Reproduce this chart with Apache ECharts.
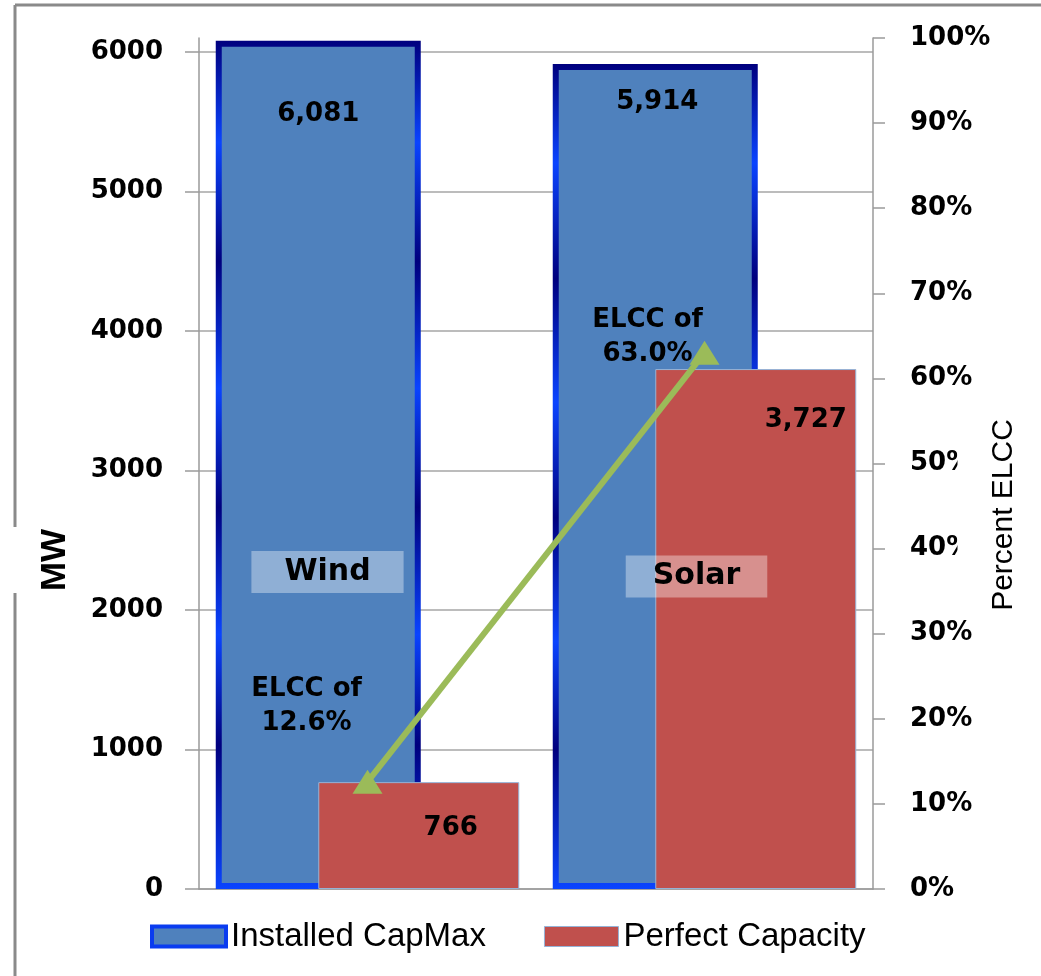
<!DOCTYPE html>
<html>
<head>
<meta charset="utf-8">
<script src="https://cdn.jsdelivr.net/npm/echarts@6/dist/echarts.min.js"></script>
<style>
  html, body { margin: 0; padding: 0; background: #fff; }
  #chart { width: 1041px; height: 976px; }
</style>
</head>
<body>
<div id="chart"></div>
<script>
// Resource categories and their capacity figures (MW)
const categories = ['Wind', 'Solar'];
const installedCapMax = [6081, 5914];
const perfectCapacity = [766, 3727];
// Effective load carrying capability, percent of installed capacity
const elccPercent = [12.6, 63.0];
// Axis tick values
const mwTicks = [0, 1000, 2000, 3000, 4000, 5000, 6000];
const percentTicks = [0, 10, 20, 30, 40, 50, 60, 70, 80, 90, 100];

// Label placement (pixels) for each category's value labels
const installedLabelPlace = [{ dy: 74, dx: 0 }, { dy: 38, dx: 2 }];
const perfectLabelPlace = [{ dy: 46, dx: 32 }, { dy: 51, dx: 50 }];
const elccLabelOffset = [[-61, -76], [-57, -16]];
const tagLevel = 2272;
const tagStyle = [
  { offset: [-40, 0], padding: [6, 33, 6, 33] },
  { offset: [-8, 4.5], padding: [6, 27, 6, 27] }
];

const BLUE = '#4F81BD';
const RED = '#C0504D';
const GREEN = '#9BBB59';
const AXIS_GRAY = '#9a9a9a';
const TICK_FONT = { fontFamily: 'DejaVu Sans', fontWeight: 'bold', fontSize: 26, color: '#000' };

const fmtThousands = v => v.toLocaleString('en-US');

// Bevelled navy/blue border on the installed-capacity bars
const borderGradient = new echarts.graphic.LinearGradient(0, 0, 0, 1, [
  { offset: 0.00, color: '#00007e' },
  { offset: 0.12, color: '#0a44ff' },
  { offset: 0.26, color: '#00007e' },
  { offset: 0.41, color: '#0a44ff' },
  { offset: 0.55, color: '#00007e' },
  { offset: 0.70, color: '#0a44ff' },
  { offset: 0.83, color: '#00007e' },
  { offset: 1.00, color: '#0a44ff' }
]);

// Right-hand axis title: opaque box that sits over the neighbouring tick labels
const rightTitlePad = [55, 6, 8, 6];
const rightTitleCenter = { x: 1004, y: 515 };

const chart = echarts.init(document.getElementById('chart'), null, { renderer: 'canvas' });

const option = {
  animation: false,
  backgroundColor: '#fff',
  grid: { left: 199, right: 168, top: 38, bottom: 87, containLabel: false, outerBoundsMode: 'none' },
  legend: {
    left: 150,
    top: 920,
    icon: 'rect',
    itemWidth: 74,
    itemHeight: 20,
    itemGap: 58,
    padding: 0,
    textStyle: { fontFamily: 'Liberation Sans', fontSize: 33, color: '#000' },
    data: [
      { name: 'Installed CapMax', itemStyle: { color: BLUE, borderColor: '#0a3cf0', borderWidth: 4 } },
      { name: 'Perfect Capacity', itemStyle: { color: RED, borderColor: '#95B3D7', borderWidth: 1 } }
    ]
  },
  xAxis: {
    type: 'category',
    data: categories,
    axisLine: { show: true, lineStyle: { color: AXIS_GRAY, width: 1.5 } },
    axisTick: { show: false },
    axisLabel: { show: false },
    splitLine: { show: false }
  },
  yAxis: [
    {
      type: 'value',
      min: 0,
      max: 6100,
      interval: 1000,
      name: 'MW',
      nameLocation: 'middle',
      nameRotate: 90,
      nameGap: 126,
      nameMoveOverlap: false,
      nameTextStyle: {
        fontFamily: 'Liberation Sans', fontWeight: 'bold', fontSize: 35, color: '#000',
        padding: [0, 193, 0, 0]
      },
      axisLine: { show: true, lineStyle: { color: AXIS_GRAY, width: 1.5 } },
      axisTick: { show: true, length: 14, customValues: mwTicks, lineStyle: { color: AXIS_GRAY, width: 1.5 } },
      axisLabel: Object.assign({ margin: 36, customValues: mwTicks, formatter: v => String(v) }, TICK_FONT),
      splitLine: {
        show: true,
        lineStyle: {
          color: ['#a6a6a6', '#a6a6a6', '#a6a6a6', '#a6a6a6', '#a6a6a6', '#a6a6a6', '#a6a6a6', 'rgba(0,0,0,0)'],
          width: 1.5
        }
      }
    },
    {
      type: 'value',
      position: 'right',
      min: 0,
      max: 100,
      interval: 10,
      axisLine: { show: true, lineStyle: { color: AXIS_GRAY, width: 1.5 } },
      axisTick: { show: true, length: 12, customValues: percentTicks, lineStyle: { color: AXIS_GRAY, width: 1.5 } },
      axisLabel: Object.assign({ margin: 37, customValues: percentTicks, formatter: v => v + '%' }, TICK_FONT),
      splitLine: { show: false }
    }
  ],
  series: [
    {
      name: 'Installed CapMax',
      type: 'bar',
      yAxisIndex: 0,
      barWidth: 205,
      barGap: '-50%',
      itemStyle: { color: BLUE, borderColor: borderGradient, borderWidth: 6 },
      data: installedCapMax.map((v, i) => ({
        value: v,
        label: {
          show: true,
          position: ['50%', installedLabelPlace[i].dy],
          offset: [installedLabelPlace[i].dx, 0],
          align: 'center',
          verticalAlign: 'middle',
          formatter: p => fmtThousands(p.value),
          ...TICK_FONT
        }
      }))
    },
    {
      name: 'Perfect Capacity',
      type: 'bar',
      yAxisIndex: 0,
      barWidth: 201,
      barGap: '-50%',
      itemStyle: { color: RED, borderColor: '#95B3D7', borderWidth: 1 },
      data: perfectCapacity.map((v, i) => ({
        value: v,
        label: {
          show: true,
          position: ['50%', perfectLabelPlace[i].dy],
          offset: [perfectLabelPlace[i].dx, 0],
          align: 'center',
          verticalAlign: 'middle',
          formatter: p => fmtThousands(p.value),
          ...TICK_FONT
        }
      }))
    },
    {
      name: 'ELCC',
      type: 'line',
      yAxisIndex: 1,
      symbol: 'triangle',
      symbolSize: [30, 24],
      lineStyle: { color: GREEN, width: 6 },
      itemStyle: { color: GREEN },
      z: 5,
      data: elccPercent.map((v, i) => ({
        value: v,
        label: {
          show: true,
          position: 'inside',
          offset: elccLabelOffset[i],
          align: 'center',
          verticalAlign: 'middle',
          lineHeight: 34,
          formatter: p => 'ELCC of\n' + p.value.toFixed(1) + '%',
          ...TICK_FONT
        }
      }))
    },
    {
      name: 'Category tags',
      type: 'scatter',
      yAxisIndex: 0,
      symbolSize: 0,
      silent: true,
      z: 4,
      data: categories.map((c, i) => ({
        value: [i, tagLevel],
        name: c,
        itemStyle: { opacity: 1 },
        label: {
          show: true,
          position: 'inside',
          offset: tagStyle[i].offset,
          padding: tagStyle[i].padding,
          backgroundColor: 'rgba(255,255,255,0.37)',
          formatter: p => p.name,
          fontFamily: 'DejaVu Sans',
          fontWeight: 'bold',
          fontSize: 30,
          color: '#000',
          opacity: 1
        }
      }))
    }
  ],
  graphic: [
    { type: 'line', shape: { x1: 15, y1: 5, x2: 1041, y2: 5 }, style: { stroke: '#8a8a8a', lineWidth: 3 }, silent: true },
    { type: 'line', shape: { x1: 15, y1: 5, x2: 15, y2: 527 }, style: { stroke: '#8a8a8a', lineWidth: 3 }, silent: true },
    { type: 'line', shape: { x1: 15, y1: 593, x2: 15, y2: 976 }, style: { stroke: '#8a8a8a', lineWidth: 3 }, silent: true },
    {
      type: 'text',
      z: 20,
      silent: true,
      // rotated to read bottom-to-top; the padding widens the white box towards the tick labels
      x: rightTitleCenter.x,
      y: rightTitleCenter.y,
      rotation: Math.PI / 2,
      style: {
        text: 'Percent ELCC',
        font: '30px "Liberation Sans"',
        fill: '#000',
        align: 'center',
        verticalAlign: 'middle',
        backgroundColor: '#fff',
        padding: rightTitlePad
      }
    }
  ]
};

chart.setOption(option);
</script>
</body>
</html>
